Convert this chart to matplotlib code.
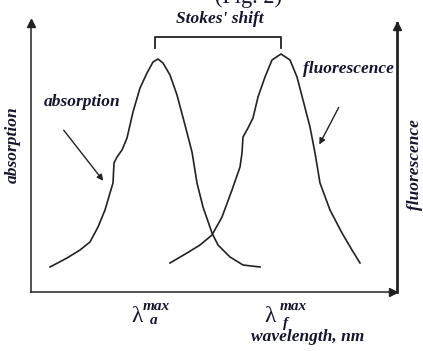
import numpy as np
import matplotlib
matplotlib.use("Agg")
import matplotlib.pyplot as plt

# curves (arbitrary units: wavelength offset, intensity)
abs_x = [19, 36, 49, 59, 67, 74, 79, 82, 83, 86, 91, 96, 102, 109, 116, 122, 127,
         132, 139, 146, 154, 161, 166, 172, 181, 187, 199, 212, 229]
abs_y = [25, 34, 42, 50, 65, 82, 99, 109, 129, 135, 142, 154, 180, 204, 219, 230, 233,
         229, 217, 197, 167, 140, 109, 85, 59, 47, 35, 27, 25]

flu_x = [139, 156, 169, 181, 191, 201, 209, 211, 212, 217, 222, 227, 234, 241, 250,
         259, 266, 272, 279, 284, 289, 299, 311, 321, 329]
flu_y = [29, 39, 47, 57, 75, 102, 125, 139, 155, 164, 174, 195, 215, 232, 238,
         232, 215, 192, 165, 139, 109, 82, 59, 42, 29]

tick_subs = ["a", "f"]

ink = "#15152e"
line = "#222222"
serif = "Liberation Serif"
lab = dict(family=serif, weight="bold", style="italic", fontsize=12.5, color=ink)

fig = plt.figure(figsize=(4.23, 3.51), dpi=100)
ax = fig.add_axes([31 / 423, 59 / 351, 366 / 423, 269 / 351])
ax.set_xlim(0, 366)
ax.set_ylim(0, 269)

ax.plot(abs_x, abs_y, color=line, lw=1.2, solid_joinstyle="round")
ax.plot(flu_x, flu_y, color=line, lw=1.2, solid_joinstyle="round")

# axes: left, bottom, right with arrow heads
ax.spines["top"].set_visible(False)
for s in ["left", "bottom"]:
    ax.spines[s].set_linewidth(1.1)
    ax.spines[s].set_color(line)
ax.spines["right"].set_linewidth(2.0)
ax.spines["right"].set_color(line)
ax.plot([0], [269], marker="^", ms=6, color=line, clip_on=False)
ax.plot([366], [266], marker="^", ms=6, color=line, clip_on=False)
ax.plot([362], [0], marker=">", ms=6, color=line, clip_on=False)
ax.set_yticks([])
ax.set_xticks([])

# peak positions
pa = abs_x[int(np.argmax(abs_y))]
pf = flu_x[int(np.argmax(flu_y))]

# Stokes' shift bracket
ax.plot([pa - 3, pa - 3, pf, pf], [244, 255, 255, 244], color=line, lw=1.3, clip_on=False)
ax.text((pa + pf) / 2, 273, "Stokes' shift", ha="center", va="center", clip_on=False, **lab)

# curve labels with arrows
ax.text(51, 190, "absorption", ha="center", va="center", **lab)
ax.annotate("", xy=(74, 109), xytext=(31, 164),
            arrowprops=dict(arrowstyle="-|>", color=line, lw=1.0, mutation_scale=9))
ax.text(317, 223, "fluorescence", ha="center", va="center", **lab)
ax.annotate("", xy=(287, 145), xytext=(309, 187),
            arrowprops=dict(arrowstyle="-|>", color=line, lw=1.0, mutation_scale=9))

# axis titles
ax.text(-18, 147, "absorption", rotation=90, ha="center", va="center", clip_on=False, **lab)
ax.text(384, 127, "fluorescence", rotation=90, ha="center", va="center", clip_on=False, **lab)
ax.text(277, -45, "wavelength, nm", ha="center", va="center", clip_on=False, **lab)

# lambda max labels under the peaks
offsets = [(-21, -15, -8, -28), (-11, -1, 2, -31)]
for peak, sub, (dl, dm, ds, ys) in zip([pa, pf], tick_subs, offsets):
    ax.text(peak + dl, -25, "λ", ha="center", va="center", family=serif,
            fontsize=17, color=ink, clip_on=False)
    ax.text(peak + dm, -15, "max", ha="left", va="center", family=serif,
            weight="bold", style="italic", fontsize=11, color=ink, clip_on=False)
    ax.text(peak + ds, ys, sub, ha="left", va="center", family=serif,
            weight="bold", style="italic", fontsize=11, color=ink, clip_on=False)

# clipped caption at the very top
fig.text(248 / 423, 1 - 3 / 351, "(Fig. 2)", ha="center", va="baseline",
         family=serif, fontsize=16, color=ink)

fig.savefig("out.png", dpi=100)
